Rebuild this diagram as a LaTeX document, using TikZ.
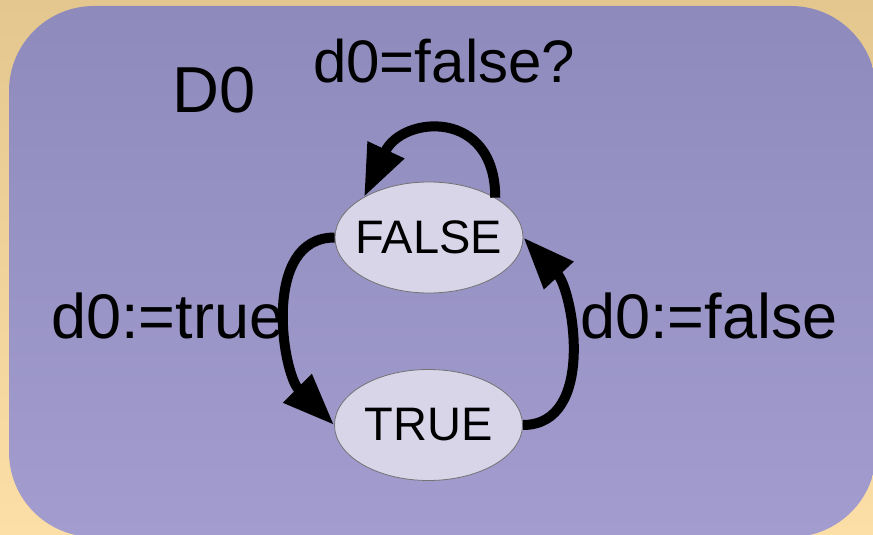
\documentclass[tikz,border=0pt]{standalone}
\usepackage{fontspec}
\setmainfont{Liberation Sans}
\usetikzlibrary{arrows.meta,shapes.geometric}

\definecolor{sandtop}{RGB}{227,199,142}
\definecolor{sandbot}{RGB}{252,222,167}
\definecolor{lilactop}{RGB}{142,139,188}
\definecolor{lilacbot}{RGB}{163,156,207}
\definecolor{statefill}{RGB}{216,213,233}

% state names keep the ellipse size fixed
\newcommand\stname[1]{\makebox[0pt]{#1}}

\tikzset{
  statenode/.style={ellipse, draw=black!55, line width=0.8pt, fill=statefill,
    minimum width=188pt, minimum height=111pt, inner sep=0pt,
    font=\fontsize{47}{47}\selectfont},
  trans/.style={line width=10pt, -{Triangle[length=52pt,width=38pt]}},
  lbl/.style={inner sep=0pt, anchor=base west, font=\fontsize{63}{63}\selectfont},
}

\begin{document}
\begin{tikzpicture}[x=1pt,y=-1pt]
  \useasboundingbox (0,0) rectangle (873,535);
  \clip (0,0) rectangle (873,535);

  % backdrop and panel
  \shade[top color=sandtop, bottom color=sandbot] (0,0) rectangle (873,535);
  \shade[top color=lilactop, bottom color=lilacbot, rounded corners=85pt]
    (9,6) rectangle (876,537);

  % states
  \node[statenode] (f) at (429,237.5) {\stname{FALSE}};
  \node[statenode] (t) at (428.5,425) {\stname{TRUE}};

  % texts
  \node[lbl, font=\fontsize{65}{65}\selectfont] (dname) at (172,112) {D0};
  \node[lbl, font=\fontsize{60}{60}\selectfont] (guard) at (313,82) {d0=false?};
  \node[lbl] (settrue) at (51,338) {d0:=true};
  \node[lbl] (setfalse) at (580,338) {d0:=false};

  % transitions
  \draw[trans] (f.31.5) to[out=90,in=65,looseness=1.75] (f.148);
  \draw[trans] (f.west) to[out=180,in=135] (t.west);
  \draw[trans] (t.east) to[out=0,in=-47] (f.east);
\end{tikzpicture}
\end{document}
